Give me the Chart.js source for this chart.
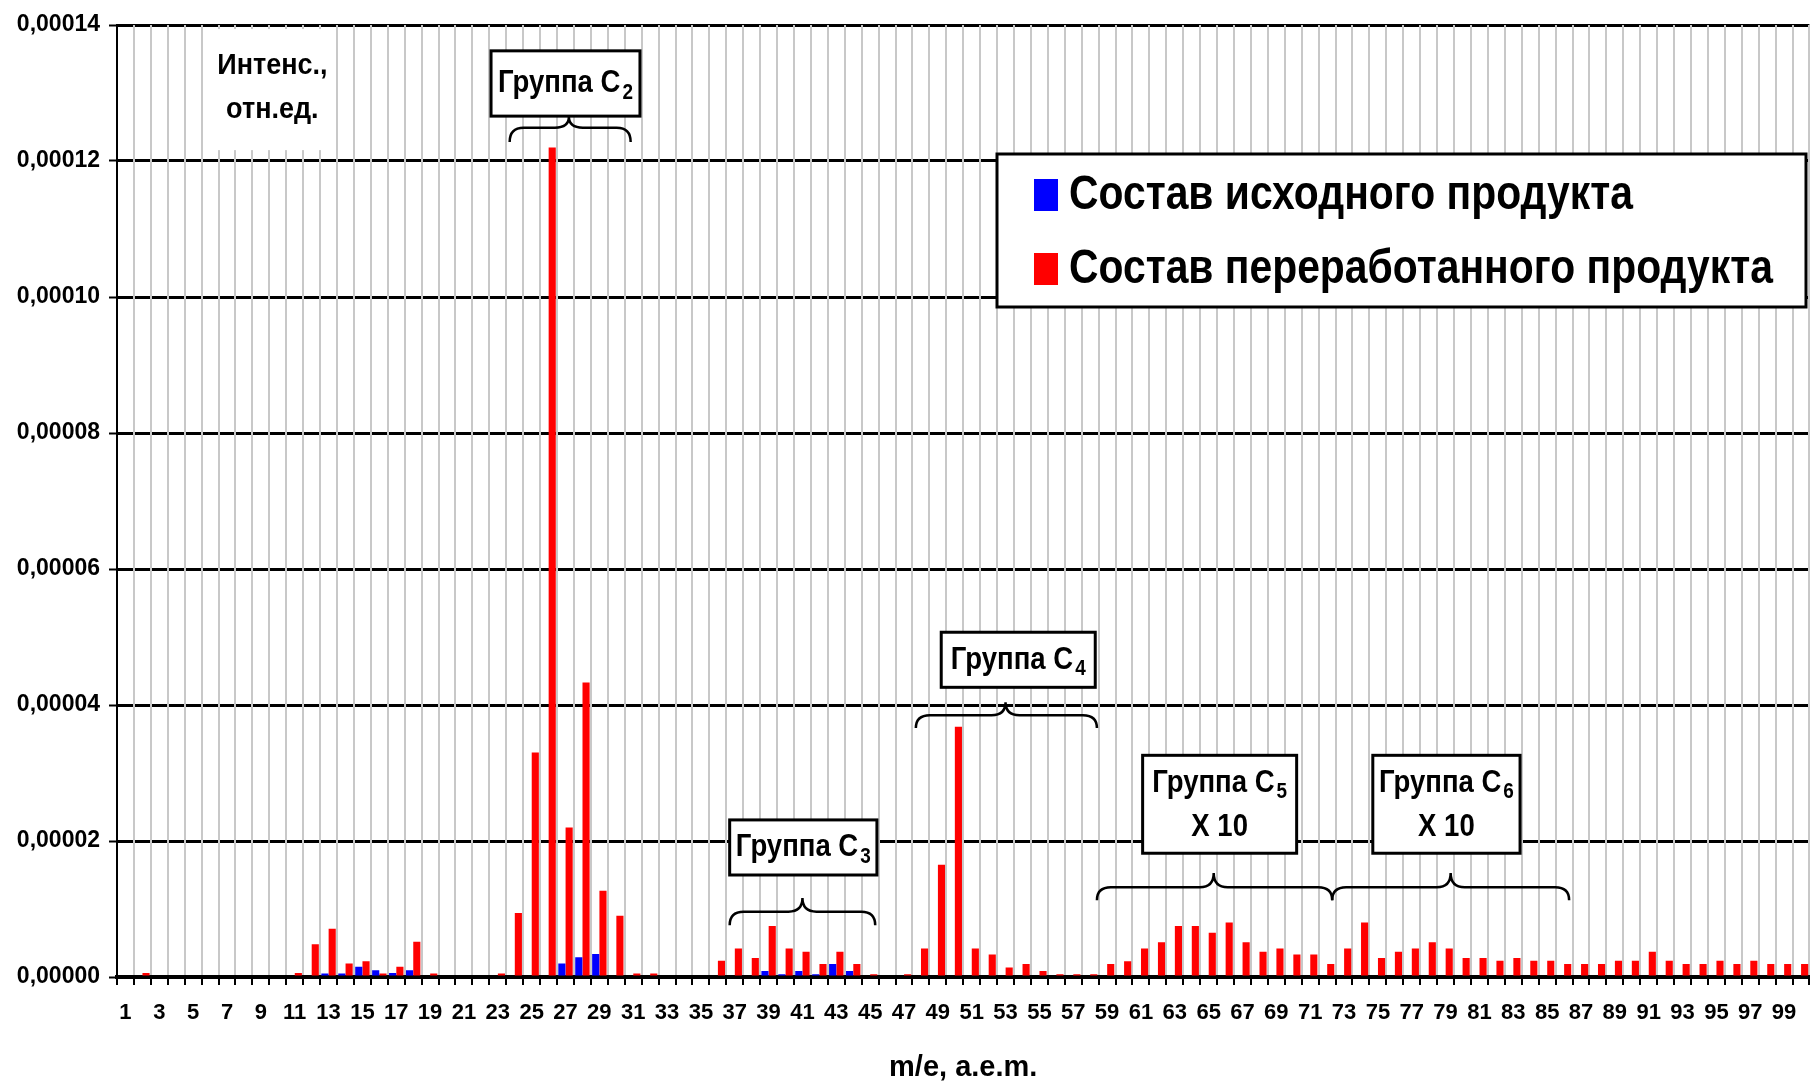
<!DOCTYPE html>
<html lang="ru">
<head>
<meta charset="utf-8">
<title>Масс-спектр</title>
<script src="https://cdn.jsdelivr.net/npm/chart.js@4.4.1/dist/chart.umd.min.js"></script>
<style>
  html, body { margin: 0; padding: 0; background: #fff; }
  #wrap { width: 1816px; height: 1085px; }
</style>
</head>
<body>
<div id="wrap"><canvas id="massChart" width="1816" height="1085"></canvas></div>
<script>
// m/e, a.e.m.
const massNumbers = Array.from({ length: 100 }, (_, i) => String(i + 1));

// Состав исходного продукта
const sourceValues = [
  0, 0, 0, 0, 0, 0, 0, 0, 0, 0,
  0, 0, 0.05e-5, 0.05e-5, 0.15e-5, 0.1e-5, 0.06e-5, 0.1e-5, 0, 0,
  0, 0, 0, 0, 0, 0, 0.2e-5, 0.29e-5, 0.34e-5, 0,
  0, 0, 0, 0, 0, 0, 0, 0, 0.09e-5, 0.04e-5,
  0.09e-5, 0.04e-5, 0.19e-5, 0.09e-5, 0, 0, 0, 0, 0, 0,
  0, 0, 0, 0, 0, 0, 0, 0, 0, 0,
  0, 0, 0, 0, 0, 0, 0, 0, 0, 0,
  0, 0, 0, 0, 0, 0, 0, 0, 0, 0,
  0, 0, 0, 0, 0, 0, 0, 0, 0, 0,
  0, 0, 0, 0, 0, 0, 0, 0, 0, 0
];

// Состав переработанного продукта
const processedValues = [
  0, 0.06e-5, 0, 0, 0, 0, 0, 0, 0, 0,
  0.06e-5, 0.48e-5, 0.71e-5, 0.2e-5, 0.23e-5, 0.05e-5, 0.15e-5, 0.52e-5, 0.05e-5, 0,
  0, 0, 0.05e-5, 0.94e-5, 3.3e-5, 12.2e-5, 2.2e-5, 4.33e-5, 1.27e-5, 0.9e-5,
  0.05e-5, 0.05e-5, 0, 0, 0, 0.24e-5, 0.42e-5, 0.28e-5, 0.75e-5, 0.42e-5,
  0.37e-5, 0.19e-5, 0.37e-5, 0.19e-5, 0.04e-5, 0, 0.04e-5, 0.42e-5, 1.65e-5, 3.68e-5,
  0.42e-5, 0.33e-5, 0.14e-5, 0.19e-5, 0.09e-5, 0.04e-5, 0.04e-5, 0.04e-5, 0.19e-5, 0.23e-5,
  0.42e-5, 0.51e-5, 0.75e-5, 0.75e-5, 0.65e-5, 0.8e-5, 0.51e-5, 0.37e-5, 0.42e-5, 0.33e-5,
  0.33e-5, 0.19e-5, 0.42e-5, 0.8e-5, 0.28e-5, 0.37e-5, 0.42e-5, 0.51e-5, 0.42e-5, 0.28e-5,
  0.28e-5, 0.24e-5, 0.28e-5, 0.24e-5, 0.24e-5, 0.19e-5, 0.19e-5, 0.19e-5, 0.24e-5, 0.24e-5,
  0.37e-5, 0.24e-5, 0.19e-5, 0.19e-5, 0.24e-5, 0.19e-5, 0.24e-5, 0.19e-5, 0.19e-5, 0.19e-5
];

const yTickLabels = ["0,00000", "0,00002", "0,00004", "0,00006", "0,00008", "0,00010", "0,00012", "0,00014"];

const seriesNames = ["Состав исходного продукта", "Состав переработанного продукта"];

// group captions: x in m/e units, y in axis units
const groups = [
  { name: "Группа C", sub: "2", extra: null, box: [22.6, 31.4, 13.62e-5, 12.66e-5], brace: [23.7, 30.85, 27.2, 12.65e-5, 12.49e-5, 12.28e-5] },
  { name: "Группа C", sub: "3", extra: null, box: [36.7, 45.4, 2.31e-5, 1.5e-5], brace: [36.7, 45.3, 41.0, 1.16e-5, 0.96e-5, 0.76e-5] },
  { name: "Группа C", sub: "4", extra: null, box: [49.2, 58.3, 5.07e-5, 4.26e-5], brace: [47.7, 58.4, 53.0, 4.04e-5, 3.85e-5, 3.66e-5] },
  { name: "Группа C", sub: "5", extra: "X 10", box: [61.1, 70.2, 3.26e-5, 1.82e-5], brace: [58.4, 72.3, 65.3, 1.53e-5, 1.32e-5, 1.13e-5] },
  { name: "Группа C", sub: "6", extra: "X 10", box: [74.7, 83.4, 3.26e-5, 1.82e-5], brace: [72.3, 86.3, 79.3, 1.53e-5, 1.32e-5, 1.13e-5] }
];

const FONT = "'Liberation Sans', Arial, sans-serif";

// draws bold text squeezed horizontally (Arial Narrow look)
function narrowText(ctx, text, size, x, y, align, squeeze) {
  const k = squeeze || 0.84;
  ctx.save();
  ctx.font = "bold " + size + "px " + FONT;
  ctx.textBaseline = "middle";
  ctx.textAlign = align || "left";
  ctx.translate(x, y);
  ctx.scale(k, 1);
  ctx.fillText(text, 0, 0);
  ctx.restore();
}

function narrowWidth(ctx, text, size, squeeze) {
  ctx.save();
  ctx.font = "bold " + size + "px " + FONT;
  const w = ctx.measureText(text).width * (squeeze || 0.84);
  ctx.restore();
  return w;
}

function drawBrace(ctx, xl, xr, xm, yTip, yMid, yEnd) {
  const r = 14;
  ctx.beginPath();
  ctx.moveTo(xl, yEnd);
  ctx.quadraticCurveTo(xl, yMid, xl + r, yMid);
  ctx.lineTo(xm - r, yMid);
  ctx.quadraticCurveTo(xm, yMid, xm, yTip);
  ctx.quadraticCurveTo(xm, yMid, xm + r, yMid);
  ctx.lineTo(xr - r, yMid);
  ctx.quadraticCurveTo(xr, yMid, xr, yEnd);
  ctx.stroke();
}

function drawGroupLabel(ctx, text, sub, cx, cy) {
  const w1 = narrowWidth(ctx, text, 32, 0.86);
  const w2 = narrowWidth(ctx, sub, 22, 0.86);
  const x0 = cx - (w1 + w2 + 2) / 2;
  narrowText(ctx, text, 32, x0, cy, "left", 0.86);
  narrowText(ctx, sub, 22, x0 + w1 + 2, cy + 9, "left", 0.86);
}

const overlayPlugin = {
  id: "overlay",
  beforeDatasetsDraw(chart) {
    const { ctx, scales: { x, y } } = chart;
    const px = (c) => x.getPixelForValue(c - 1);
    // caption of the value axis sits on a white patch
    ctx.save();
    ctx.fillStyle = "#fff";
    const l = px(5.85), r = px(13.2), t = y.getPixelForValue(13.94e-5), b = y.getPixelForValue(12.16e-5);
    ctx.fillRect(l, t, r - l, b - t);
    ctx.fillStyle = "#000";
    const cx = px(9.68);
    narrowText(ctx, "Интенс.,", 30, cx, y.getPixelForValue(13.4e-5), "center", 0.9);
    narrowText(ctx, "отн.ед.", 30, cx, y.getPixelForValue(12.75e-5), "center", 0.9);
    ctx.restore();
  },
  afterDatasetsDraw(chart) {
    const { ctx, scales: { x, y } } = chart;
    const px = (c) => x.getPixelForValue(c - 1);
    const py = (v) => y.getPixelForValue(v);
    ctx.save();
    ctx.strokeStyle = "#000";
    ctx.fillStyle = "#000";
    groups.forEach((g) => {
      const [bx0, bx1, by0, by1] = g.box;
      const l = px(bx0), r = px(bx1), t = py(by0), b = py(by1);
      ctx.lineWidth = 3;
      ctx.fillStyle = "#fff";
      ctx.fillRect(l, t, r - l, b - t);
      ctx.strokeRect(l, t, r - l, b - t);
      ctx.fillStyle = "#000";
      const cx = (l + r) / 2;
      if (g.extra) {
        drawGroupLabel(ctx, g.name, g.sub, cx, (t + b) / 2 - 21);
        narrowText(ctx, g.extra, 32, cx, (t + b) / 2 + 23, "center", 0.86);
      } else {
        drawGroupLabel(ctx, g.name, g.sub, cx, (t + b) / 2);
      }
      const [xl, xr, xm, yTip, yMid, yEnd] = g.brace;
      ctx.lineWidth = 2.5;
      drawBrace(ctx, px(xl), px(xr), px(xm), py(yTip), py(yMid), py(yEnd));
    });
    ctx.restore();
  },
  afterDraw(chart) {
    // legend box
    const { ctx } = chart;
    ctx.save();
    ctx.fillStyle = "#fff";
    ctx.strokeStyle = "#000";
    ctx.lineWidth = 3;
    ctx.fillRect(997, 154, 809, 153);
    ctx.strokeRect(997, 154, 809, 153);
    chart.data.datasets.forEach((ds, i) => {
      const cy = 195 + i * 74;
      ctx.fillStyle = ds.backgroundColor;
      ctx.fillRect(1034, cy - 16, 24, 32);
      ctx.fillStyle = "#000";
      narrowText(ctx, ds.label, 48, 1069, cy + 1, "left", 0.851);
    });
    ctx.restore();
  }
};

const ctx = document.getElementById("massChart").getContext("2d");
new Chart(ctx, {
  type: "bar",
  data: {
    labels: massNumbers,
    datasets: [
      { label: seriesNames[0], data: sourceValues, backgroundColor: "#0000ff", categoryPercentage: 0.86, barPercentage: 0.98 },
      { label: seriesNames[1], data: processedValues, backgroundColor: "#ff0000", categoryPercentage: 0.86, barPercentage: 0.98 }
    ]
  },
  options: {
    responsive: false,
    animation: false,
    layout: { padding: { top: 25, right: 0, left: 0, bottom: 0 } },
    plugins: {
      legend: { display: false },
      tooltip: { enabled: false }
    },
    scales: {
      y: {
        min: 0,
        max: 0.00014,
        ticks: {
          stepSize: 0.00002,
          color: "#000",
          padding: 9,
          font: { family: FONT, size: 23, weight: "bold" },
          callback: (v, i) => yTickLabels[i]
        },
        grid: { color: "#000", lineWidth: 3, tickLength: 8, tickColor: "#000", tickWidth: 2 },
        border: { color: "#000", width: 2 },
        afterFit: (scale) => { scale.width = 117; }
      },
      x: {
        offset: true,
        ticks: {
          autoSkip: false,
          maxRotation: 0,
          color: "#000",
          padding: 15,
          font: { family: FONT, size: 22, weight: "bold" },
          callback: (v, i) => (i % 2 === 0 ? massNumbers[i] : "")
        },
        grid: {
          offset: true,
          color: (c) => (c.index === 0 ? "rgba(0,0,0,0)" : "#c8c8c8"),
          lineWidth: 2,
          tickLength: 8,
          tickColor: "#000",
          tickWidth: 2
        },
        border: { color: "#000", width: 4 },
        title: {
          display: true,
          text: "m/e, a.e.m.",
          color: "#000",
          font: { family: FONT, size: 29, weight: "bold" },
          padding: { top: 0, bottom: 0 }
        },
        afterFit: (scale) => { scale.height = 108; }
      }
    }
  },
  plugins: [overlayPlugin]
});
</script>
</body>
</html>
